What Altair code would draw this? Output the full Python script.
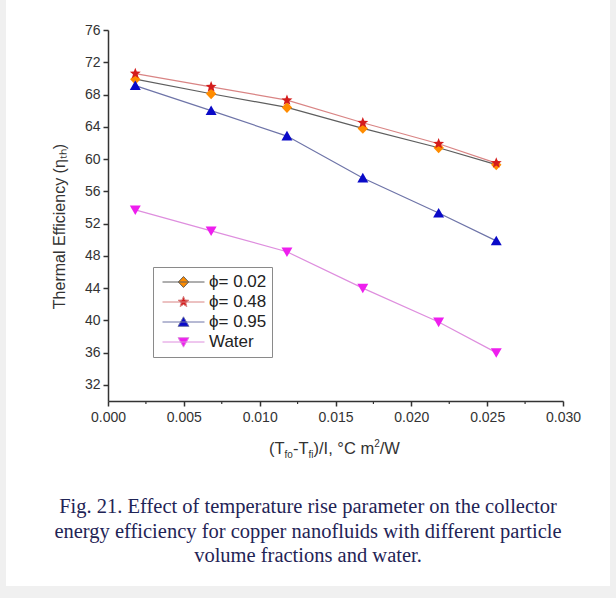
import math
import altair as alt
import pandas as pd

# ---------------- data ----------------
x_vals = [0.0018, 0.0068, 0.0118, 0.0168, 0.0218, 0.0256]
phi_002 = [69.9, 68.1, 66.4, 63.8, 61.4, 59.3]
phi_048 = [70.6, 68.95, 67.3, 64.5, 61.9, 59.5]
phi_095 = [69.1, 66.0, 62.85, 57.65, 53.3, 49.85]
water = [53.7, 51.1, 48.5, 44.0, 39.8, 36.0]
series_names = ["ϕ= 0.02", "ϕ= 0.48", "ϕ= 0.95", "Water"]

x_ticks = [0.0, 0.005, 0.010, 0.015, 0.020, 0.025, 0.030]
x_minor_ticks = [0.0025, 0.0075, 0.0125, 0.0175, 0.0225, 0.0275]
y_ticks = [32, 36, 40, 44, 48, 52, 56, 60, 64, 68, 72, 76]

y_title = "Thermal Efficiency (ηₜₕ)"
x_title_parts = [("(T", "n"), ("fo", "sub"), ("-T", "n"), ("fi", "sub"),
                 (")/I, °C m", "n"), ("2", "sup"), ("/W", "n")]
caption_lines = [
    "Fig. 21. Effect of temperature rise parameter on the collector",
    "energy efficiency for copper nanofluids with different particle",
    "volume fractions and water.",
]

# ---------------- styles ----------------
FONT = "Liberation Sans"
marker_colors = ["#FF8C00", "#D41C1C", "#0A0AC8", "#EE1EEE"]
line_colors = ["#5E5E5E", "#D98484", "#6E74A8", "#DE8EDE"]
AX = "#333333"
W, H = 455, 371


def path(pts, k=1.0):
    s = "M" + "L".join(f"{x * k:.3f},{y * k:.3f}" for x, y in pts) + "Z"
    return s


diamond = [(0, -1), (0.95, 0), (0, 1), (-0.95, 0)]
star = []
for i in range(10):
    r = 1.05 if i % 2 == 0 else 0.45
    a = -math.pi / 2 + i * math.pi / 5
    star.append((r * math.cos(a), r * math.sin(a)))
tri_up = [(0, -0.95), (1, 0.8), (-1, 0.8)]
tri_down = [(0, 0.95), (1, -0.8), (-1, -0.8)]
shapes = [diamond, star, tri_up, tri_down]
point_paths = [path(s) for s in shapes]
K = 0.26
legend_paths = ["M-1,0L1,0" + path(s, K) for s in shapes]

rows = []
for name, ys in zip(series_names, [phi_002, phi_048, phi_095, water]):
    for xv, yv in zip(x_vals, ys):
        rows.append({"series": name, "x": xv, "y": yv})
df = pd.DataFrame(rows)

x_enc = alt.X(
    "x:Q",
    scale=alt.Scale(domain=[0, 0.03], nice=False, zero=False),
    axis=alt.Axis(values=x_ticks, format=".3f", title=None, grid=False,
                  tickSize=5, tickWidth=1.5, domainWidth=1.5,
                  domainColor=AX, tickColor=AX, labelColor=AX,
                  labelFont=FONT, labelFontSize=14, labelPadding=4,
                  labelFlush=False, labelOverlap=False, zindex=1),
)
y_enc = alt.Y(
    "y:Q",
    scale=alt.Scale(domain=[30, 76], nice=False, zero=False),
    axis=alt.Axis(values=y_ticks, format="d", title=y_title, grid=False,
                  titleFont=FONT, titleFontSize=16, titleFontWeight="normal",
                  titleColor=AX, titleAngle=270, titleX=-44, titleY=196,
                  titleAlign="center", titleBaseline="alphabetic",
                  tickSize=5, tickWidth=1.5, domainWidth=1.5,
                  domainColor=AX, tickColor=AX, labelColor=AX,
                  labelFont=FONT, labelFontSize=14, labelPadding=3,
                  labelFlush=False, labelOverlap=False, zindex=1),
)

one = alt.Data(values=[{"k": 1}])

card = alt.Chart(one).mark_rect(color="white").encode(
    x=alt.value(-102), x2=alt.value(502), y=alt.value(-30), y2=alt.value(556)
)

lines = alt.Chart(df).mark_line(strokeWidth=1.2).encode(
    x=x_enc, y=y_enc,
    stroke=alt.Stroke("series:N", sort=series_names,
                      scale=alt.Scale(domain=series_names, range=line_colors),
                      legend=None),
)

minor = alt.Chart(pd.DataFrame({"x": x_minor_ticks})).mark_rule(
    color=AX, strokeWidth=1.2
).encode(x=x_enc, y=alt.value(H), y2=alt.value(H + 3))

points = alt.Chart(df).mark_point(filled=True, size=120, strokeWidth=0, opacity=1).encode(
    x=x_enc, y=y_enc,
    fill=alt.Fill("series:N", sort=series_names,
                  scale=alt.Scale(domain=series_names, range=marker_colors),
                  legend=None),
    shape=alt.Shape("series:N", sort=series_names,
                    scale=alt.Scale(domain=series_names, range=point_paths),
                    legend=None),
)

leg = alt.Legend(orient="none", legendX=45, legendY=237, title=None,
                 padding=5, strokeColor="#8a8a8a", fillColor="white",
                 labelFont=FONT, labelFontSize=17, labelColor="#222222",
                 labelOffset=4, symbolOffset=4, clipHeight=20, rowPadding=0,
                 symbolStrokeWidth=1, symbolSize=1764)

legend_layer = alt.Chart(df).mark_point(
    filled=True, size=1764, strokeWidth=1, opacity=1, clip=True
).encode(
    x=alt.value(-400), y=alt.value(-400),
    shape=alt.Shape("series:N", sort=series_names,
                    scale=alt.Scale(domain=series_names, range=legend_paths),
                    legend=leg),
    fill=alt.Fill("series:N", sort=series_names,
                  scale=alt.Scale(domain=series_names, range=marker_colors),
                  legend=leg),
    stroke=alt.Stroke("series:N", sort=series_names,
                      scale=alt.Scale(domain=series_names, range=line_colors),
                      legend=leg),
)

# x-axis title built from pieces (sub/superscripts)
ARIAL = {"(": 333, ")": 333, "T": 611, "-": 333, "/": 278, "I": 278, ",": 278,
         " ": 278, "°": 400, "C": 722, "m": 833, "W": 944, "2": 556, "f": 278,
         "o": 556, "i": 222}
MAIN, SMALL = 16.5, 10
xt_layers = []
cx = 161.0
base = 423.5
for txt, kind in x_title_parts:
    fs = MAIN if kind == "n" else SMALL
    dy = 0 if kind == "n" else (4 if kind == "sub" else -7)
    xt_layers.append(
        alt.Chart(alt.Data(values=[{"t": txt}])).mark_text(
            align="left", baseline="alphabetic", font=FONT, fontSize=fs, color=AX
        ).encode(x=alt.value(cx), y=alt.value(base + dy), text="t:N")
    )
    cx += sum(ARIAL.get(c, 556) for c in txt) / 1000 * fs

caption = alt.Chart(alt.Data(values=[{"t": "\n".join(caption_lines)}])).mark_text(
    align="center", baseline="alphabetic", font="Liberation Serif", fontSize=20.5,
    color="#1F2456", lineBreak="\n", lineHeight=24.5
).encode(x=alt.value(200), y=alt.value(483), text="t:N")

chart = alt.layer(card, lines, minor, points, legend_layer, *xt_layers, caption).resolve_scale(
    shape="independent", fill="independent", stroke="independent"
).properties(
    width=W, height=H,
    autosize=alt.AutoSizeParams(type="none"),
    padding={"left": 108, "top": 30, "right": 53, "bottom": 197},
    background="#f0f0f0",
).configure_view(stroke=None)

chart.save("out.html", embed_options={"renderer": "svg", "actions": False})
